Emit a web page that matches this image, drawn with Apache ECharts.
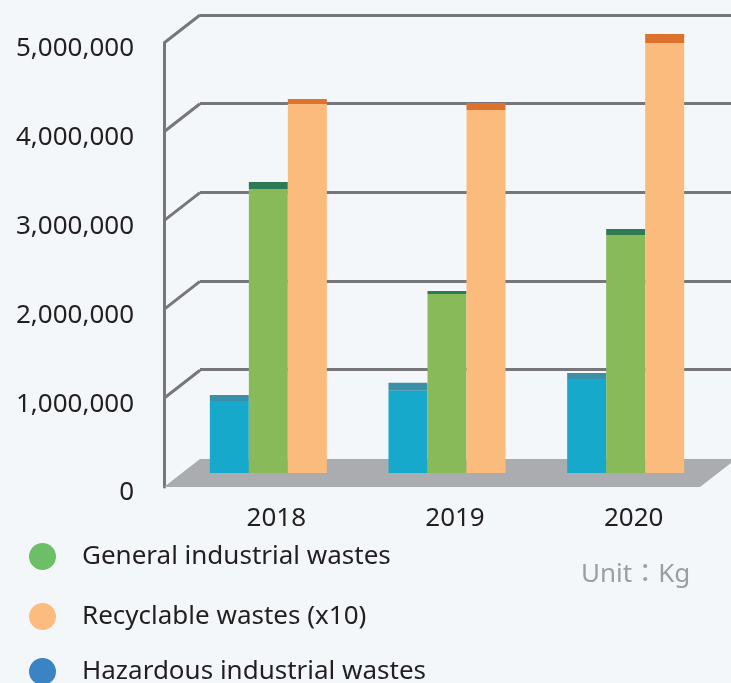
<!DOCTYPE html>
<html>
<head>
<meta charset="utf-8">
<script src="https://cdn.jsdelivr.net/npm/echarts@6/dist/echarts.min.js"></script>
<style>
html,body{margin:0;padding:0;background:#F4F7FA;}
#main{width:731px;height:683px;}
</style>
</head>
<body>
<div id="main"></div>
<script>
// ---- data ----
const categories = ['2018', '2019', '2020'];
const hazardous = [810000, 927000, 1059000];
const hazardousTop = [68000, 90000, 68000];
const general = [3198000, 2016000, 2680000];
const generalTop = [79000, 34000, 68000];
const recyclable = [4155000, 4088000, 4842000];
const recyclableTop = [56000, 79000, 101000];
const yTicks = [0, 1000000, 2000000, 3000000, 4000000, 5000000];
const legendNames = ['General industrial wastes', 'Recyclable wastes (x10)', 'Hazardous industrial wastes'];

// ---- style ----
const FONT = 'Noto Sans';
const FRAME = '#77767b';
const DX = 36, DY = -28;
const chart = echarts.init(document.getElementById('main'), null, {renderer: 'canvas'});

const yBase = {type: 'value', min: 0, max: 5000000, interval: 1000000};
const fmt = v => v.toLocaleString('en-US');

function barPair(name, body, top, stack, c1, c2) {
  return [
    {name: name, type: 'bar', stack: stack, xAxisIndex: 2, yAxisIndex: 2, data: body,
     barWidth: 39, barGap: '0%', itemStyle: {color: c1}, z: 5},
    {name: name + ' top', type: 'bar', stack: stack, xAxisIndex: 2, yAxisIndex: 2, data: top,
     barWidth: 39, barGap: '0%', itemStyle: {color: c2}, z: 5}
  ];
}

function legendAt(name, color, top) {
  return {
    left: 24, top: top, orient: 'vertical', icon: 'circle',
    itemWidth: 27, itemHeight: 27, selectedMode: false,
    data: [{name: name, itemStyle: {color: color}}],
    textStyle: {fontFamily: FONT, fontSize: 26, color: '#231f20', padding: [0, 0, 0, 21]}
  };
}

const option = {
  backgroundColor: '#F4F7FA',
  animation: false,
  grid: [
    {left: 164, right: 31, top: 43, bottom: 196},   // front plane
    {left: 200, right: -5, top: 15, bottom: 225},   // back plane
    {left: 179, right: 16, top: 29, bottom: 210}    // bar plane
  ],
  xAxis: [
    {gridIndex: 0, type: 'value', min: 0, max: 1, show: false},
    {gridIndex: 1, type: 'value', min: 0, max: 1, show: false},
    {gridIndex: 2, type: 'category', data: categories,
     axisLine: {show: false}, axisTick: {show: false},
     axisLabel: {margin: 33, fontFamily: FONT, fontSize: 26, color: '#231f20', padding: [0, 0, 0, 16]}}
  ],
  yAxis: [
    Object.assign({gridIndex: 0,
      axisLine: {show: true, lineStyle: {color: FRAME, width: 3}},
      axisTick: {show: false}, splitLine: {show: false},
      axisLabel: {margin: 30, fontFamily: FONT, fontSize: 26, color: '#231f20', formatter: fmt,
                  verticalAlign: 'top', lineHeight: 12}}, yBase),
    Object.assign({gridIndex: 1,
      axisLine: {show: false}, axisTick: {show: false}, axisLabel: {show: false},
      splitLine: {show: true, showMinLine: false, lineStyle: {color: FRAME, width: 3}}}, yBase),
    Object.assign({gridIndex: 2, show: false}, yBase)
  ],
  legend: [
    legendAt(legendNames[0], '#6cbf66', 538),
    legendAt(legendNames[1], '#fdbc7f', 598),
    legendAt(legendNames[2], '#3a84c6', 653)
  ],
  graphic: [
    {type: 'text', left: 581, top: 562,
     style: {text: 'Unit：Kg', fill: '#9c9ea1', font: '26px "Noto Sans", "Noto Sans CJK TC"'}}
  ],
  series: [
    {
      type: 'custom', xAxisIndex: 0, yAxisIndex: 0, z: 1, silent: true,
      data: yTicks.map(v => [v]),
      renderItem: function (params, api) {
        const v = api.value(0);
        const p0 = api.coord([0, v]);
        if (v === 0) {
          const p1 = api.coord([1, 0]);
          return {
            type: 'polygon',
            shape: {points: [p0, p1, [p1[0] + DX, p1[1] + DY], [p0[0] + DX, p0[1] + DY]]},
            style: {fill: '#abacaf'}
          };
        }
        return {
          type: 'line',
          shape: {x1: p0[0], y1: p0[1], x2: p0[0] + DX, y2: p0[1] + DY},
          style: {stroke: FRAME, lineWidth: 3}
        };
      }
    }
  ].concat(
    barPair(legendNames[2], hazardous, hazardousTop, 'h', '#17a9cb', '#3b90a9'),
    barPair(legendNames[0], general, generalTop, 'g', '#88ba5a', '#2e7a55'),
    barPair(legendNames[1], recyclable, recyclableTop, 'r', '#fbbb7c', '#dd722e')
  )
};
chart.setOption(option);
</script>
</body>
</html>
